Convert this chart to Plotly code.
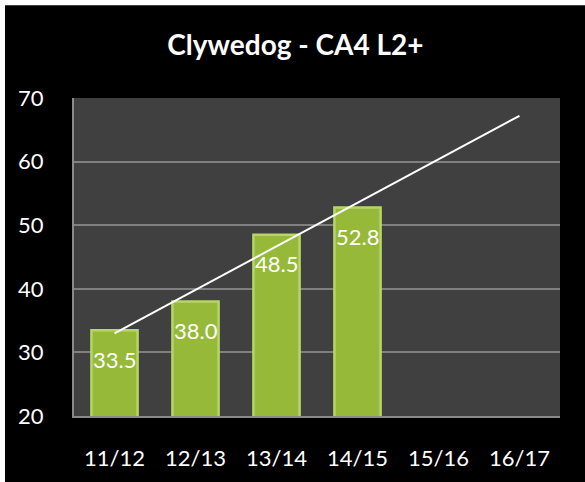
import plotly.graph_objects as go

categories = ["11/12", "12/13", "13/14", "14/15", "15/16", "16/17"]
bar_categories = ["11/12", "12/13", "13/14", "14/15"]
bar_values = [33.5, 38.0, 48.5, 52.8]
bar_labels = ["33.5", "38.0", "48.5", "52.8"]
trend_categories = ["11/12", "16/17"]
trend_values = [33.0, 67.2]
y_ticks = [20, 30, 40, 50, 60, 70]

FONT = "Lato, 'Open Sans', sans-serif"

fig = go.Figure()
fig.add_trace(go.Bar(
    x=bar_categories, y=bar_values,
    marker=dict(color="#96b93a", line=dict(color="#b6d66a", width=2.5)),
    width=0.57, hoverinfo="skip", showlegend=False,
))
fig.add_trace(go.Scatter(
    x=trend_categories, y=trend_values, mode="lines",
    line=dict(color="white", width=2), hoverinfo="skip", showlegend=False,
))

for c, v, t in zip(bar_categories, bar_values, bar_labels):
    fig.add_annotation(x=c, y=v, text=t, showarrow=False, yanchor="middle",
                       yshift=-29, font=dict(family=FONT, size=22, color="white"))

shapes = [
    dict(type="rect", xref="paper", yref="paper", x0=-0.142, x1=1.06, y0=-0.21, y1=1.292,
         fillcolor="black", line=dict(width=0), layer="below"),
    dict(type="rect", xref="paper", yref="paper", x0=0, x1=1, y0=0, y1=1,
         fillcolor="#404040", line=dict(width=0), layer="below"),
]

fig.update_layout(
    width=585, height=482,
    margin=dict(l=74, r=25, t=98, b=66),
    paper_bgcolor="white", plot_bgcolor="#404040",
    shapes=shapes,
    title=dict(text="<b>Clywedog - CA4 L2+</b>", x=0.505, xanchor="center",
               y=1 - 45 / 482, yanchor="middle",
               font=dict(family=FONT, size=28, color="white")),
    xaxis=dict(type="category", categoryorder="array", categoryarray=categories,
               range=[-0.5, 5.5], showgrid=False, showline=True, linecolor="#8a8a8a",
               linewidth=2, ticks="", ticklabelstandoff=22,
               tickfont=dict(family=FONT, size=22, color="white")),
    yaxis=dict(range=[20, 70], tickvals=y_ticks, showgrid=True, gridcolor="#808080",
               gridwidth=1.5, zeroline=False, showline=True, linecolor="#8a8a8a",
               linewidth=2, ticks="", ticklabelstandoff=24,
               tickfont=dict(family=FONT, size=22, color="white")),
    bargap=0.43,
)

fig.write_html("out.html", config={"displayModeBar": False},
               post_script="document.body.style.margin='0';document.body.style.overflow='hidden';")
